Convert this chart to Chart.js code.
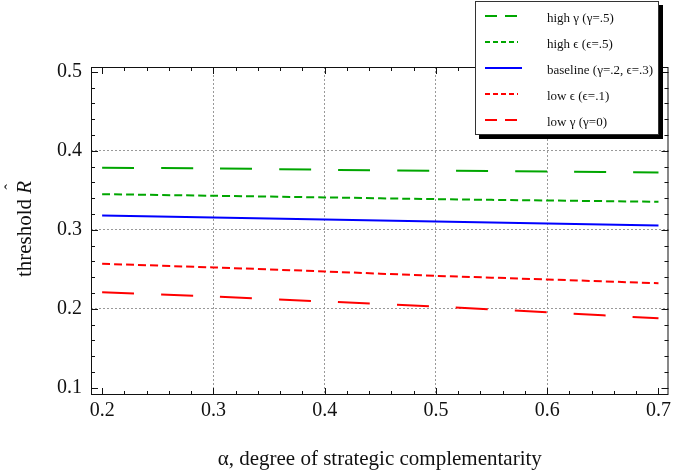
<!DOCTYPE html>
<html>
<head>
<meta charset="utf-8">
<script src="https://cdn.jsdelivr.net/npm/chart.js@4/dist/chart.umd.min.js"></script>
<style>
body { margin: 0; background: #fff; }
#c { display: block; }
</style>
</head>
<body>
<canvas id="c" width="675" height="474"></canvas>
<script>
// alpha values along the x axis
var alphaVals = [0.2, 0.3, 0.4, 0.5, 0.6, 0.7];

// threshold R-hat for each scenario
var highGamma   = [0.3786, 0.3777, 0.3760, 0.3748, 0.3739, 0.3726];
var highEps     = [0.3451, 0.3431, 0.3410, 0.3388, 0.3371, 0.3355];
var baseline    = [0.3181, 0.3156, 0.3130, 0.3105, 0.3080, 0.3055];
var lowEps      = [0.2570, 0.2524, 0.2473, 0.2418, 0.2372, 0.2324];
var lowGamma    = [0.2210, 0.2156, 0.2093, 0.2029, 0.1957, 0.1880];

var seriesNames = ["high \u03b3 (\u03b3=.5)", "high \u03f5 (\u03f5=.5)", "baseline (\u03b3=.2, \u03f5=.3)",
                   "low \u03f5 (\u03f5=.1)", "low \u03b3 (\u03b3=0)"];

var xMajor = [0.2, 0.3, 0.4, 0.5, 0.6, 0.7];
var yMajor = [0.1, 0.2, 0.3, 0.4, 0.5];

var GREEN = "rgb(0,166,0)";
var BLUE = "rgb(0,0,255)";
var RED = "rgb(255,0,0)";
var SERIF = "'Liberation Serif', 'DejaVu Serif', serif";

function pts(ys) {
    var out = [];
    for (var i = 0; i < alphaVals.length; i++) out.push({x: alphaVals[i], y: ys[i]});
    return out;
}

function ds(label, ys, color, dash) {
    return {
        label: label,
        data: pts(ys),
        borderColor: color,
        borderWidth: 2,
        borderDash: dash,
        pointRadius: 0,
        tension: 0.3,
        fill: false
    };
}

var datasets = [
    ds(seriesNames[0], highGamma, GREEN, [32, 27]),
    ds(seriesNames[1], highEps, GREEN, [8, 4]),
    ds(seriesNames[2], baseline, BLUE, []),
    ds(seriesNames[3], lowEps, RED, [8, 4]),
    ds(seriesNames[4], lowGamma, RED, [32, 27])
];
// legend samples use shorter dashes
var legendDash = [[12, 8], [5, 3], [], [5, 3], [12, 8]];

function isInner(v, list) {
    // grid only for inner majors
    return Math.abs(v - list[0]) > 1e-6 && Math.abs(v - list[list.length - 1]) > 1e-6;
}

var framePlugin = {
    id: 'frame',
    afterDatasetsDraw: function(chart) {
        var ctx = chart.ctx;
        var a = chart.chartArea;
        var xs = chart.scales.x, ys = chart.scales.y;
        ctx.save();
        ctx.strokeStyle = "#111";
        ctx.lineWidth = 1;
        ctx.strokeRect(a.left + 0.5, a.top + 0.5, a.right - a.left - 1, a.bottom - a.top - 1);
        ctx.beginPath();
        var v, p, len;
        for (var i = 0; i <= 25; i++) {
            v = 0.2 + i * 0.02;
            p = Math.round(xs.getPixelForValue(v)) + 0.5;
            len = (i % 5 === 0) ? 7 : 4;
            ctx.moveTo(p, a.bottom); ctx.lineTo(p, a.bottom - len);
            ctx.moveTo(p, a.top); ctx.lineTo(p, a.top + len);
        }
        for (var j = 0; j <= 20; j++) {
            v = 0.1 + j * 0.02;
            p = Math.round(ys.getPixelForValue(v)) + 0.5;
            len = (j % 5 === 0) ? 7 : 4;
            ctx.moveTo(a.left, p); ctx.lineTo(a.left + len, p);
            ctx.moveTo(a.right, p); ctx.lineTo(a.right - len, p);
        }
        ctx.stroke();
        ctx.restore();
    },
    afterDraw: function(chart) {
        var ctx = chart.ctx;
        ctx.save();
        // y axis title: "threshold R-hat"
        ctx.translate(25, 229);
        ctx.rotate(-Math.PI / 2);
        ctx.fillStyle = "#111";
        ctx.textBaseline = "middle";
        ctx.font = "21px " + SERIF;
        var t1 = "threshold ";
        var w1 = ctx.measureText(t1).width;
        ctx.font = "italic 21px " + SERIF;
        var w2 = ctx.measureText("R").width;
        var x0 = -(w1 + w2) / 2;
        ctx.font = "21px " + SERIF;
        ctx.textAlign = "left";
        ctx.fillText(t1, x0, 0);
        ctx.font = "italic 21px " + SERIF;
        ctx.fillText("R", x0 + w1, 0);
        ctx.font = "17px " + SERIF;
        ctx.fillText("\u02c6", x0 + w1 + 4, -13);
        ctx.restore();

        // legend box with drop shadow
        var bx = 475, by = 1, bw = 184, bh = 134;
        ctx.save();
        ctx.fillStyle = "#000";
        ctx.fillRect(bx + 4, by + 4, bw, bh);
        ctx.fillStyle = "#fff";
        ctx.fillRect(bx, by, bw, bh);
        ctx.strokeStyle = "#333";
        ctx.lineWidth = 1;
        ctx.strokeRect(bx + 0.5, by + 0.5, bw - 1, bh - 1);
        var rowY = [16, 42, 68, 94, 120];
        ctx.font = "13px " + SERIF;
        ctx.textBaseline = "middle";
        ctx.textAlign = "left";
        chart.data.datasets.forEach(function(d, k) {
            ctx.beginPath();
            ctx.strokeStyle = d.borderColor;
            ctx.lineWidth = 2;
            ctx.setLineDash(legendDash[k]);
            ctx.moveTo(485, rowY[k]);
            ctx.lineTo(k === 2 ? 522 : 518, rowY[k]);
            ctx.stroke();
            ctx.setLineDash([]);
            ctx.fillStyle = "#111";
            ctx.fillText(d.label, 547, rowY[k] + 3);
        });
        ctx.restore();
    }
};

new Chart(document.getElementById("c"), {
    type: 'line',
    data: { datasets: datasets },
    plugins: [framePlugin],
    options: {
        responsive: false,
        animation: false,
        layout: { padding: { top: 67, right: 1, left: 0, bottom: 0 } },
        plugins: { legend: { display: false }, tooltip: { enabled: false } },
        scales: {
            x: {
                type: 'linear',
                min: 0.190,
                max: 0.709,
                afterBuildTicks: function(s) { s.ticks = xMajor.map(function(v) { return {value: v}; }); },
                afterFit: function(s) { s.height = 79; },
                ticks: {
                    color: "#111",
                    font: { family: SERIF, size: 20 },
                    padding: 4,
                    maxRotation: 0,
                    callback: function(v) { return v.toFixed(1); }
                },
                grid: {
                    drawTicks: false,
                    color: function(c) { return (c.tick && isInner(c.tick.value, xMajor)) ? "#999" : "rgba(0,0,0,0)"; },
                    lineWidth: 1
                },
                border: { display: false, dash: [2, 2] },
                title: {
                    display: true,
                    text: "\u03b1, degree of strategic complementarity",
                    color: "#111",
                    font: { family: SERIF, size: 21 },
                    padding: { top: 10, bottom: 2 }
                }
            },
            y: {
                type: 'linear',
                min: 0.091,
                max: 0.506,
                afterBuildTicks: function(s) { s.ticks = yMajor.map(function(v) { return {value: v}; }); },
                afterFit: function(s) { s.width = 91; },
                ticks: {
                    color: "#111",
                    font: { family: SERIF, size: 20 },
                    padding: 9,
                    callback: function(v) { return v.toFixed(1); }
                },
                grid: {
                    drawTicks: false,
                    color: function(c) { return (c.tick && isInner(c.tick.value, yMajor)) ? "#999" : "rgba(0,0,0,0)"; },
                    lineWidth: 1
                },
                border: { display: false, dash: [2, 2] }
            }
        }
    }
});
</script>
</body>
</html>
